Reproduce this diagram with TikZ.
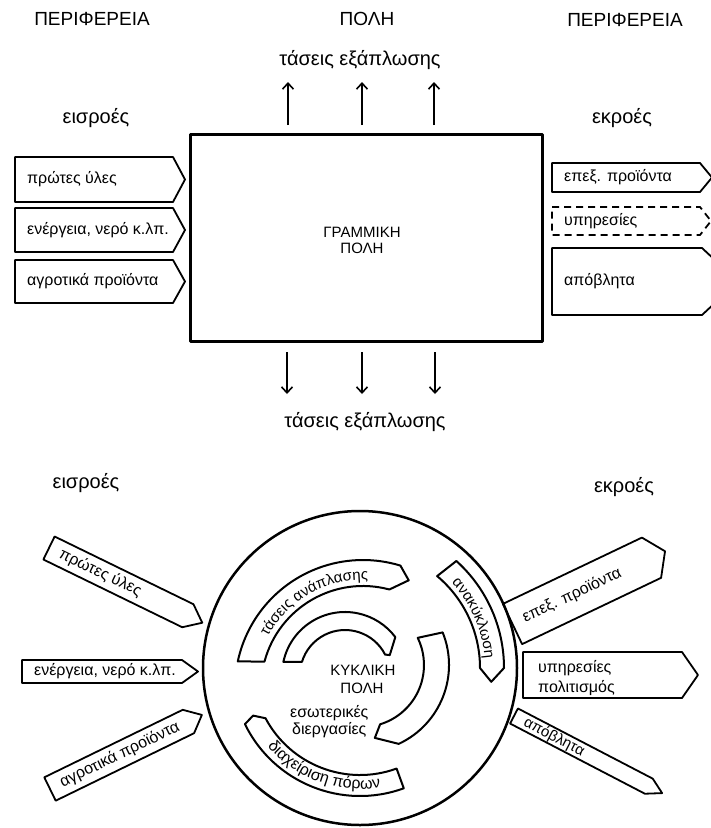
\documentclass[tikz,border=0pt]{standalone}
\usepackage{fontspec}
\setmainfont{Liberation Sans}
\usetikzlibrary{decorations.text,arrows.meta}
\newcommand\fsz[1]{\fontsize{#1}{#1}\selectfont}
% #1 name, #2 back-mid, #3 angle, #4 body length, #5 tip, #6 half height, #7 draw opts, #8 node opts, #9 text
\newcommand\penta[9]{%
  \begin{scope}[shift={#2},rotate=#3]
    \draw[box,#7] (0,-#6) -- (#4,-#6) -- ({#4+#5},0) -- (#4,#6) -- (0,#6) -- cycle;
    \node[lbl,anchor=base west,rotate=#3,#8] (#1) at (12,4.3) {#9};
  \end{scope}}
\begin{document}
\begin{tikzpicture}[x=1pt,y=-1pt,line join=round,
  box/.style={draw,line width=1.8pt},
  lbl/.style={font=\fsz{16},inner sep=0pt},
  hdr/.style={font=\fsz{20},inner sep=0pt,anchor=base},
  caps/.style={font=\fsz{19},inner sep=0pt,anchor=base},
  band/.style={draw,line width=2pt},
  arr/.style={line width=1.6pt,-{Straight Barb[length=6pt,width=11pt]}}]
\useasboundingbox (0,0) rectangle (711,828);
% ---------- top: linear city ----------
\node[caps] (per1) at (92,25) {ΠΕΡΙΦΕΡΕΙΑ};
\node[caps] (pol) at (367,25) {ΠΟΛΗ};
\node[caps] (per2) at (625,26) {ΠΕΡΙΦΕΡΕΙΑ};
\node[hdr] (tup) at (360,65) {τάσεις εξάπλωσης};
\node[hdr] (in1) at (96,123) {εισροές};
\node[hdr] (out1) at (622,123) {εκροές};
\node[draw,line width=3pt,minimum width=352pt,minimum height=207pt,inner sep=0pt] (lin) at (366,237.5) {};
\node[caps,font=\fsz{15}] (lt1) at (362,237) {ΓΡΑΜΜΙΚΗ};
\node[caps,font=\fsz{15}] (lt2) at (362,253) {ΠΟΛΗ};
\foreach \i/\x in {1/288,2/362,3/434}{
  \coordinate (us\i) at (\x,125); \coordinate (ue\i) at (\x,82);
  \draw[arr] (us\i) -- (ue\i);}
\foreach \i/\x in {1/287,2/362,3/435}{
  \coordinate (ds\i) at (\x,352); \coordinate (de\i) at (\x,394);
  \draw[arr] (ds\i) -- (de\i);}
\node[hdr] (tdn) at (365,427) {τάσεις εξάπλωσης};
\penta{a1}{(15,179.5)}{0}{158}{12}{22.5}{}{}{πρώτες ύλες}
\penta{a2}{(15,230)}{0}{158}{12}{22}{}{}{ενέργεια, νερό κ.λπ.}
\penta{a3}{(15,281.5)}{0}{158}{12}{21.5}{}{}{αγροτικά προϊόντα}
\penta{b1}{(552,177.5)}{0}{148}{12}{14.5}{}{}{επεξ. προϊόντα}
\penta{b2}{(552,221)}{0}{148}{11}{14}{dash pattern=on 7pt off 5pt}{}{υπηρεσίες}
\penta{b3}{(552,281.5)}{0}{150}{36}{33.5}{}{}{απόβλητα}
% ---------- bottom: circular city ----------
\node[hdr] (in2) at (86,488) {εισροές};
\node[hdr] (out2) at (624,492) {εκροές};
\node[draw,circle,line width=2.5pt,minimum size=314pt,inner sep=0pt] (cyc) at (360,668) {};
% band: τάσεις ανάπλασης
\begin{scope}[shift={(363,688)},y=1pt]
  \draw[band] (168:128) arc[start angle=168,end angle=73,radius=128] -- (67:117) -- (75:102)
     arc[start angle=75,end angle=165,radius=102] -- cycle;
  \path[decorate,decoration={text along path,text align=center,text={|\fsz{15}|τάσεις ανάπλασης}}]
     (154:108) arc[start angle=154,end angle=85,radius=108];
\end{scope}
% inner small band
\begin{scope}[shift={(345,675)},y=1pt]
  \draw[band] (168:63) arc[start angle=168,end angle=37,radius=63] -- (24:49) -- (27:45)
     arc[start angle=27,end angle=163,radius=45] -- cycle;
\end{scope}
% right inner band
\begin{scope}[shift={(362,665)},y=1pt]
  \draw[band] (22:87) arc[start angle=22,end angle=-65,radius=87] -- (-80:74) -- (-73:62)
     arc[start angle=-73,end angle=26,radius=62] -- cycle;
\end{scope}
% ανακύκλωση and διαχείριση πόρων
\begin{scope}[shift={(360,668)},y=1pt]
  \draw[band] (48:144) arc[start angle=48,end angle=0,radius=144] -- (-6:132) -- (0:120)
     arc[start angle=0,end angle=50,radius=120] -- cycle;
  \path[decorate,decoration={text along path,text align=center,text={|\fsz{15}|ανακύκλωση}}]
     (46:125) arc[start angle=46,end angle=1,radius=125];
  \draw[band] (290:128) arc[start angle=290,end angle=206,radius=128] -- (204:117) -- (208:107)
     arc[start angle=208,end angle=290,radius=107] -- cycle;
  \path[decorate,decoration={text along path,text align=center,text={|\fsz{16}|διαχείριση πόρων}}]
     (215:121) arc[start angle=215,end angle=285,radius=121];
\end{scope}
\node[caps,font=\fsz{15}] (ct1) at (363,675) {ΚΥΚΛΙΚΗ};
\node[caps,font=\fsz{15}] (ct2) at (362,693) {ΠΟΛΗ};
\node[lbl,anchor=base west] (ip1) at (290,717) {εσωτερικές};
\node[lbl,anchor=base west] (ip2) at (292,734) {διεργασίες};
% inputs
\penta{c1}{(49,548)}{-26}{154.5}{16}{12.8}{}{}{πρώτες ύλες}
\penta{c2}{(22,671.5)}{0}{160}{16}{11.5}{}{}{ενέργεια, νερό κ.λπ.}
\penta{c3}{(50,789)}{26}{154}{15}{13}{}{}{αγροτικά προϊόντα}
% outputs
\penta{d1}{(512.5,624)}{25.5}{154}{15}{22.3}{}{}{επεξ. προϊόντα}
\begin{scope}[shift={(523,675)}]
  \draw[box] (0,-23) -- (159,-23) -- (175,0) -- (159,23) -- (0,23) -- cycle;
\end{scope}
\node[lbl,anchor=base west] (d2a) at (538,672) {υπηρεσίες};
\node[lbl,anchor=base west] (d2b) at (538,692) {πολιτισμός};
\penta{d3}{(514,716)}{-27.5}{152}{15}{8.5}{}{font=\fsz{15}}{απόβλητα}
\end{tikzpicture}
\end{document}
